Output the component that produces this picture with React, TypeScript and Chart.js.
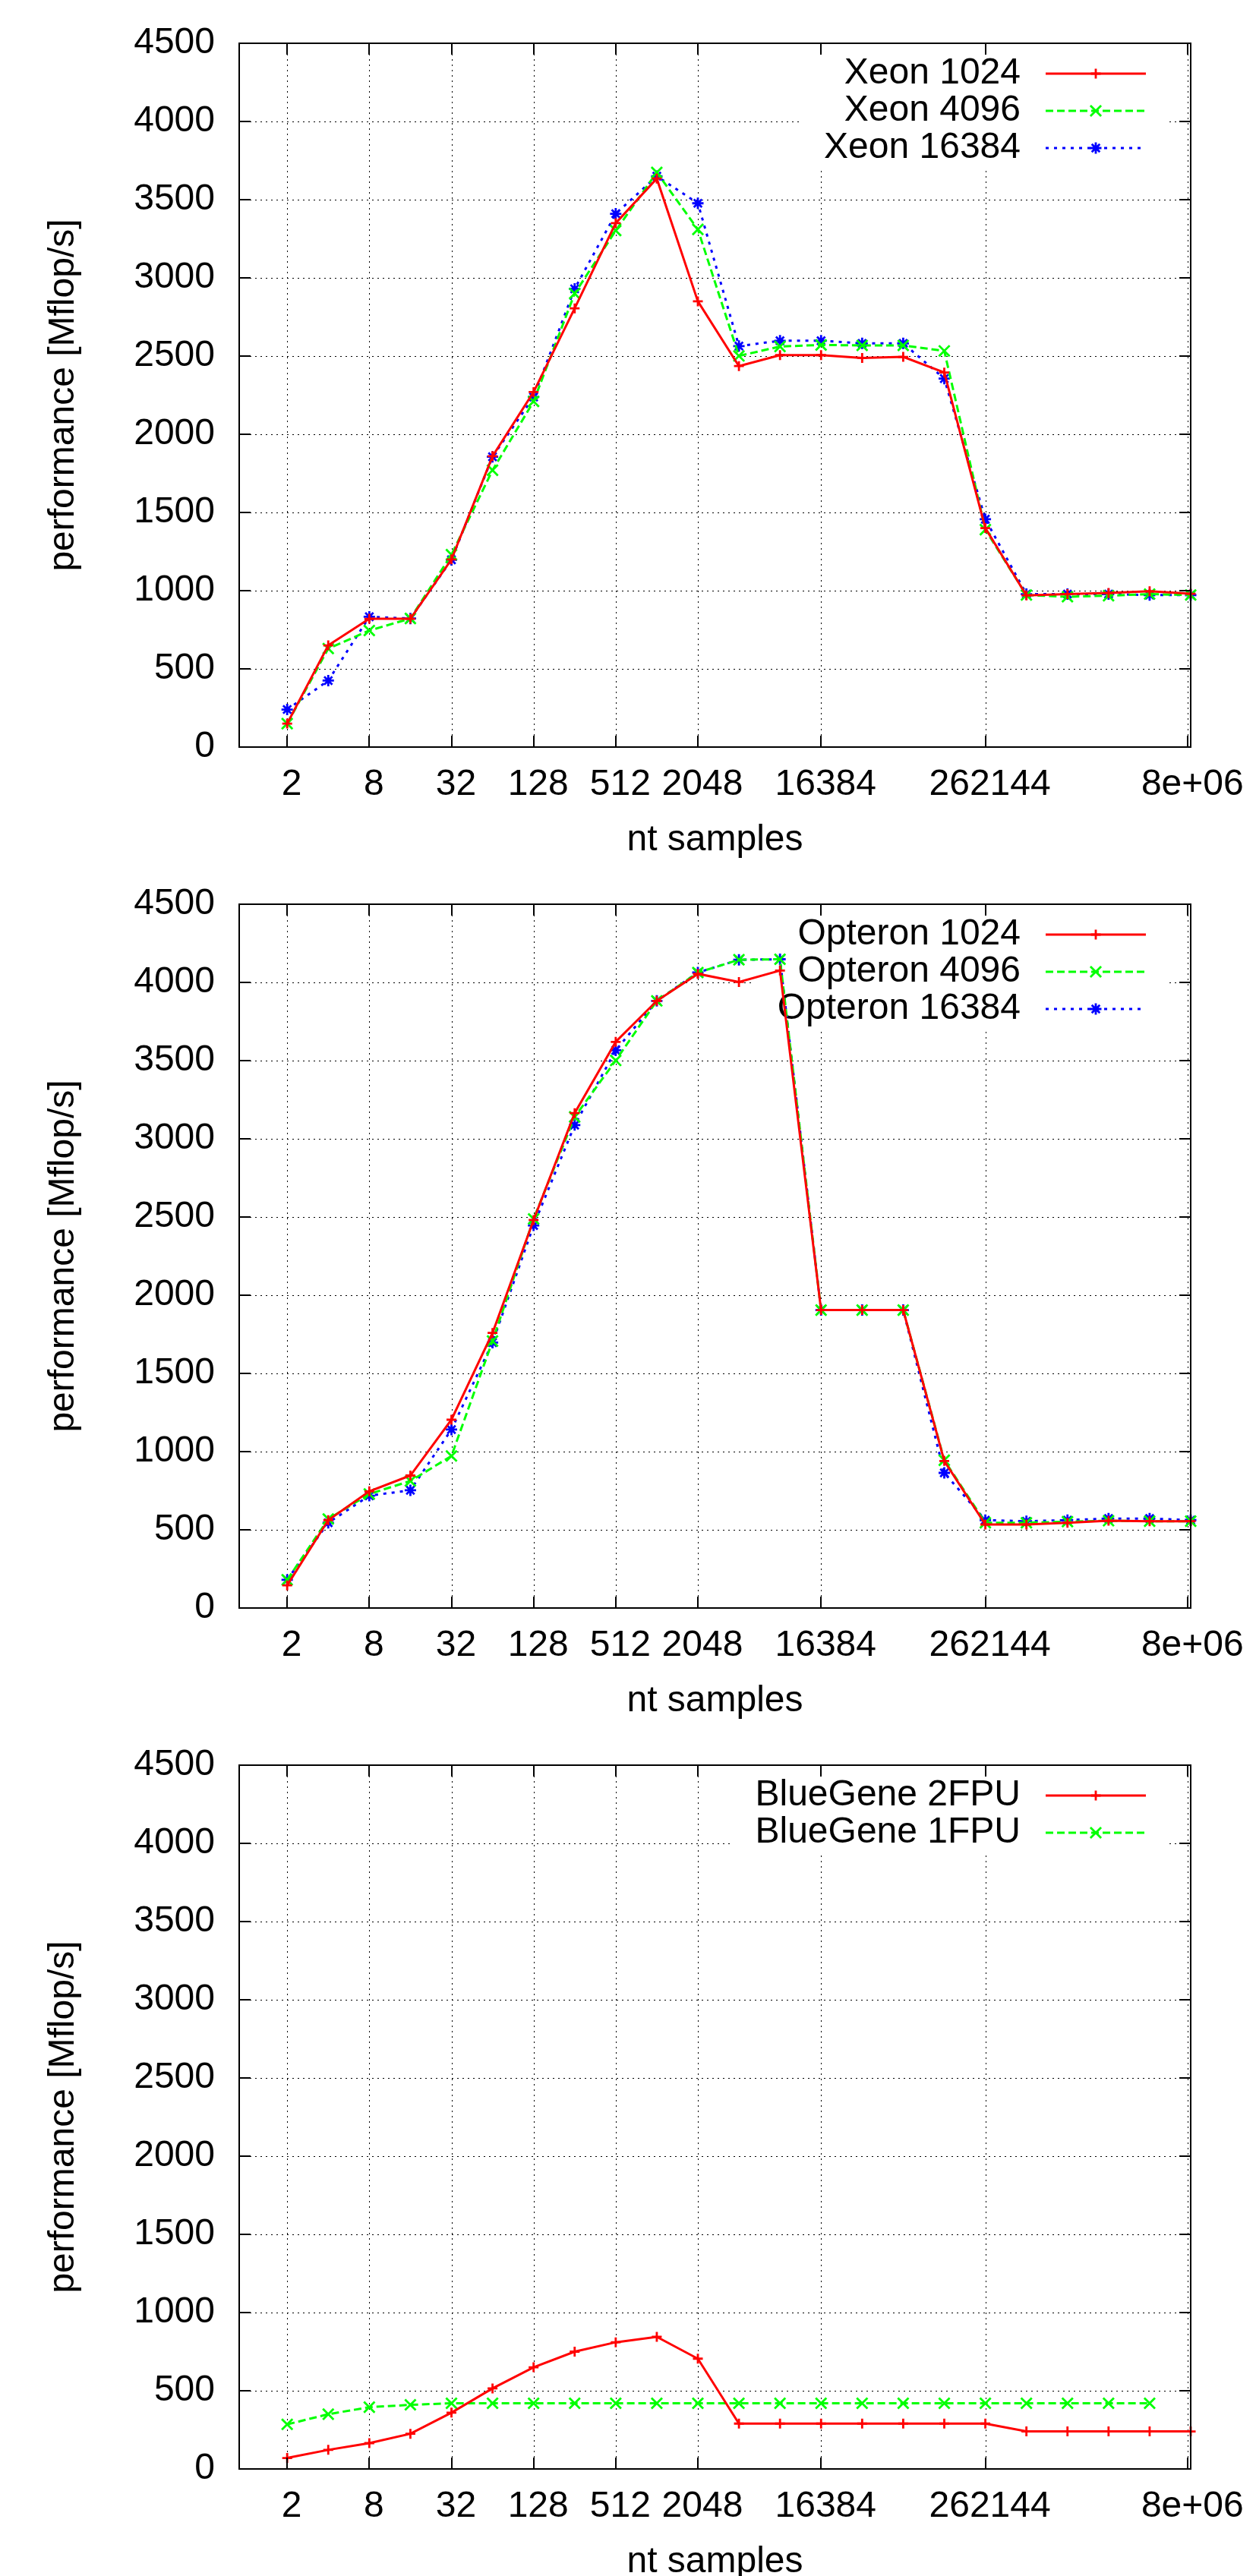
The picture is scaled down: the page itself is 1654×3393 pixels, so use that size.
import React, { useEffect, useRef } from 'react';
import { Chart, registerables } from 'chart.js';

Chart.register(...registerables);

// ---------- data ----------
const NT = [
  2, 4, 8, 16, 32, 64, 128, 256, 512, 1024, 2048, 4096, 8192, 16384, 32768,
  65536, 131072, 262144, 524288, 1048576, 2097152, 4194304, 8388608,
];

const X_TICK_VALUES = [2, 8, 32, 128, 512, 2048, 16384, 262144, 8000000];
const X_TICK_LABELS = ['2', '8', '32', '128', '512', '2048', '16384', '262144', '8e+06'];

const X_TITLE = 'nt samples';
const Y_TITLE = 'performance [Mflop/s]';

const XEON_LABELS = ['Xeon 1024', 'Xeon 4096', 'Xeon 16384'];
const XEON_1024 = [150, 650, 820, 820, 1200, 1860, 2270, 2805, 3350, 3635, 2850, 2436, 2506, 2506, 2488, 2495, 2395, 1400, 970, 978, 985, 996, 980];
const XEON_4096 = [150, 630, 745, 822, 1230, 1770, 2210, 2900, 3302, 3674, 3310, 2501, 2561, 2571, 2568, 2568, 2533, 1390, 972, 961, 968, 978, 972];
const XEON_16384 = [240, 425, 833, 822, 1197, 1856, 2238, 2930, 3410, 3650, 3477, 2564, 2598, 2598, 2581, 2581, 2356, 1457, 978, 978, 978, 972, 972];

const OPTERON_LABELS = ['Opteron 1024', 'Opteron 4096', 'Opteron 16384'];
const OPTERON_1024 = [145, 562, 746, 847, 1204, 1759, 2481, 3164, 3620, 3882, 4055, 4003, 4076, 1905, 1905, 1905, 940, 534, 534, 545, 558, 555, 555];
const OPTERON_4096 = [180, 569, 729, 812, 972, 1707, 2488, 3140, 3501, 3882, 4063, 4145, 4148, 1905, 1905, 1905, 945, 545, 545, 552, 558, 555, 555];
const OPTERON_16384 = [180, 545, 718, 753, 1141, 1697, 2446, 3088, 3566, 3882, 4063, 4145, 4148, 1905, 1905, 1905, 864, 562, 555, 562, 572, 572, 562];

const BLUEGENE_LABELS = ['BlueGene 2FPU', 'BlueGene 1FPU'];
const BLUEGENE_2FPU = [70, 122, 165, 225, 360, 515, 650, 750, 810, 845, 705, 290, 290, 290, 290, 290, 290, 290, 240, 240, 240, 240, 240];
const BLUEGENE_1FPU = [285, 350, 395, 410, 420, 420, 420, 420, 420, 420, 420, 420, 420, 420, 420, 420, 420, 420, 420, 420, 420, 420];

// ---------- styles ----------
const FONT_FAMILY = '"Liberation Sans", Arial, Helvetica, sans-serif';
const FONT_SIZE = 48;
const CANVAS_W = 1654;
const CANVAS_H = 1134;

const STYLES = [
  { color: '#ff0000', dash: [] as number[], pointStyle: 'cross', radius: 6.5 },
  { color: '#00ff00', dash: [10, 5], pointStyle: 'crossRot', radius: 10 },
  { color: '#0000ff', dash: [4, 7], pointStyle: 'star', radius: 7.5 },
];

function drawMarker(ctx: CanvasRenderingContext2D, style: string, x: number, y: number, r: number) {
  ctx.beginPath();
  if (style === 'cross' || style === 'star') {
    ctx.moveTo(x - r, y);
    ctx.lineTo(x + r, y);
    ctx.moveTo(x, y - r);
    ctx.lineTo(x, y + r);
  }
  if (style === 'crossRot' || style === 'star') {
    const d = r * Math.SQRT1_2;
    ctx.moveTo(x - d, y - d);
    ctx.lineTo(x + d, y + d);
    ctx.moveTo(x - d, y + d);
    ctx.lineTo(x + d, y - d);
  }
  ctx.stroke();
}

const gnuplotPlugin = {
  id: 'gnuplotFrame',
  beforeDatasetsDraw(chart: any) {
    const { ctx, chartArea: a, scales } = chart;
    const xs = scales.x;
    const ys = scales.y;
    ctx.save();
    // dotted grid
    ctx.strokeStyle = '#000';
    ctx.lineWidth = 1;
    ctx.setLineDash([2, 5]);
    ctx.beginPath();
    for (const v of X_TICK_VALUES) {
      const px = Math.round(xs.getPixelForValue(v)) + 0.5;
      if (px > a.left + 2 && px < a.right - 1) {
        ctx.moveTo(px, a.top);
        ctx.lineTo(px, a.bottom);
      }
    }
    for (const t of ys.ticks) {
      const py = Math.round(ys.getPixelForValue(t.value)) + 0.5;
      if (py > a.top + 2 && py < a.bottom - 2) {
        ctx.moveTo(a.left, py);
        ctx.lineTo(a.right, py);
      }
    }
    ctx.stroke();
    ctx.setLineDash([]);

    // key (legend) inside top right
    const ds = chart.data.datasets;
    ctx.font = `${FONT_SIZE}px ${FONT_FAMILY}`;
    const textRight = a.right - 224;
    const rowY = (i: number) => a.top + 40 + i * 49;
    let minLeft = textRight;
    ds.forEach((d: any) => {
      minLeft = Math.min(minLeft, textRight - ctx.measureText(d.label).width);
    });
    const boxLeft = minLeft - 32;
    const boxRight = a.right - 28;
    const boxBottom = rowY(ds.length - 1) + 25;
    ctx.fillStyle = '#fff';
    ctx.fillRect(boxLeft, a.top + 1, boxRight - boxLeft, boxBottom - a.top - 1);
    ds.forEach((d: any, i: number) => {
      const y = rowY(i);
      ctx.fillStyle = '#000';
      ctx.textAlign = 'right';
      ctx.textBaseline = 'middle';
      ctx.fillText(d.label, textRight, y);
      ctx.strokeStyle = d.borderColor;
      ctx.lineWidth = d.borderWidth;
      ctx.setLineDash(d.borderDash || []);
      ctx.beginPath();
      ctx.moveTo(a.right - 191, y);
      ctx.lineTo(a.right - 59, y);
      ctx.stroke();
      ctx.setLineDash([]);
      ctx.lineWidth = d.pointBorderWidth;
      drawMarker(ctx, d.pointStyle, a.right - 125, y, d.pointRadius);
    });
    ctx.restore();
  },
  afterDraw(chart: any) {
    const { ctx, chartArea: a, scales } = chart;
    const xs = scales.x;
    const ys = scales.y;
    ctx.save();
    ctx.strokeStyle = '#000';
    ctx.lineWidth = 2;
    ctx.setLineDash([]);
    const tl = 15;
    ctx.beginPath();
    for (const v of X_TICK_VALUES) {
      const px = Math.round(xs.getPixelForValue(v));
      ctx.moveTo(px, a.bottom);
      ctx.lineTo(px, a.bottom - tl);
      ctx.moveTo(px, a.top);
      ctx.lineTo(px, a.top + tl);
    }
    for (const t of ys.ticks) {
      const py = Math.round(ys.getPixelForValue(t.value));
      ctx.moveTo(a.left, py);
      ctx.lineTo(a.left + tl, py);
      ctx.moveTo(a.right, py);
      ctx.lineTo(a.right - tl, py);
    }
    ctx.stroke();
    ctx.strokeRect(a.left, a.top, a.right - a.left, a.bottom - a.top);
    ctx.restore();
  },
};

type Panel = { labels: string[]; series: number[][] };

function GnuChart({ labels, series }: Panel) {
  const ref = useRef<HTMLCanvasElement | null>(null);
  useEffect(() => {
    if (!ref.current) return;
    const font = { family: FONT_FAMILY, size: FONT_SIZE, lineHeight: 1 };
    const datasets = series.map((vals, i) => {
      const st = STYLES[i];
      return {
        label: labels[i],
        data: vals.map((y, j) => ({ x: NT[j], y })),
        borderColor: st.color,
        backgroundColor: st.color,
        borderWidth: 3,
        borderDash: st.dash,
        pointStyle: st.pointStyle,
        pointRadius: st.radius,
        pointBorderWidth: 2.8,
        pointBorderColor: st.color,
        pointBackgroundColor: st.color,
        fill: false,
        tension: 0,
        clip: false as any,
      };
    });
    const chart = new Chart(ref.current, {
      type: 'line',
      data: { datasets: datasets as any },
      options: {
        animation: false,
        responsive: false,
        maintainAspectRatio: false,
        devicePixelRatio: 1,
        events: [],
        layout: { padding: { top: 57, right: CANVAS_W - 1568, bottom: 0, left: 0 } },
        plugins: { legend: { display: false }, tooltip: { enabled: false } },
        scales: {
          x: {
            type: 'logarithmic',
            min: 0.89,
            max: 8388608,
            grid: { display: false, drawTicks: false },
            border: { display: false },
            afterBuildTicks: (scale: any) => {
              scale.ticks = X_TICK_VALUES.map((v) => ({ value: v }));
            },
            afterFit: (scale: any) => {
              scale.height = CANVAS_H - 57 - 927;
              scale.paddingLeft = 0;
              scale.paddingRight = 0;
            },
            ticks: {
              autoSkip: false,
              maxRotation: 0,
              minRotation: 0,
              padding: 26,
              labelOffset: 6,
              color: '#000',
              font,
              callback: (_v: any, i: number) => X_TICK_LABELS[i],
            },
            title: {
              display: true,
              text: X_TITLE,
              color: '#000',
              font,
              padding: { top: 0, bottom: 3 },
            },
          },
          y: {
            type: 'linear',
            min: 0,
            max: 4500,
            grid: { display: false, drawTicks: false },
            border: { display: false },
            afterFit: (scale: any) => {
              scale.width = 315;
              scale.paddingTop = 0;
              scale.paddingBottom = 0;
            },
            ticks: {
              stepSize: 500,
              padding: 32,
              color: '#000',
              font,
              callback: (v: any) => String(v),
            },
            title: {
              display: true,
              text: Y_TITLE,
              color: '#000',
              font,
              padding: { top: 60, bottom: 0 },
            },
          },
        },
      } as any,
      plugins: [gnuplotPlugin],
    });
    return () => chart.destroy();
  }, [labels, series]);
  return (
    <canvas
      ref={ref}
      width={CANVAS_W}
      height={CANVAS_H}
      style={{ display: 'block', width: CANVAS_W, height: CANVAS_H }}
    />
  );
}

const PANELS: Panel[] = [
  { labels: XEON_LABELS, series: [XEON_1024, XEON_4096, XEON_16384] },
  { labels: OPTERON_LABELS, series: [OPTERON_1024, OPTERON_4096, OPTERON_16384] },
  { labels: BLUEGENE_LABELS, series: [BLUEGENE_2FPU, BLUEGENE_1FPU] },
];

export default function App() {
  useEffect(() => {
    document.body.style.margin = '0';
    document.body.style.background = '#fff';
  }, []);
  return (
    <div style={{ width: CANVAS_W, height: 3393, overflow: 'hidden', background: '#fff' }}>
      {PANELS.map((p, i) => (
        <GnuChart key={i} labels={p.labels} series={p.series} />
      ))}
    </div>
  );
}
